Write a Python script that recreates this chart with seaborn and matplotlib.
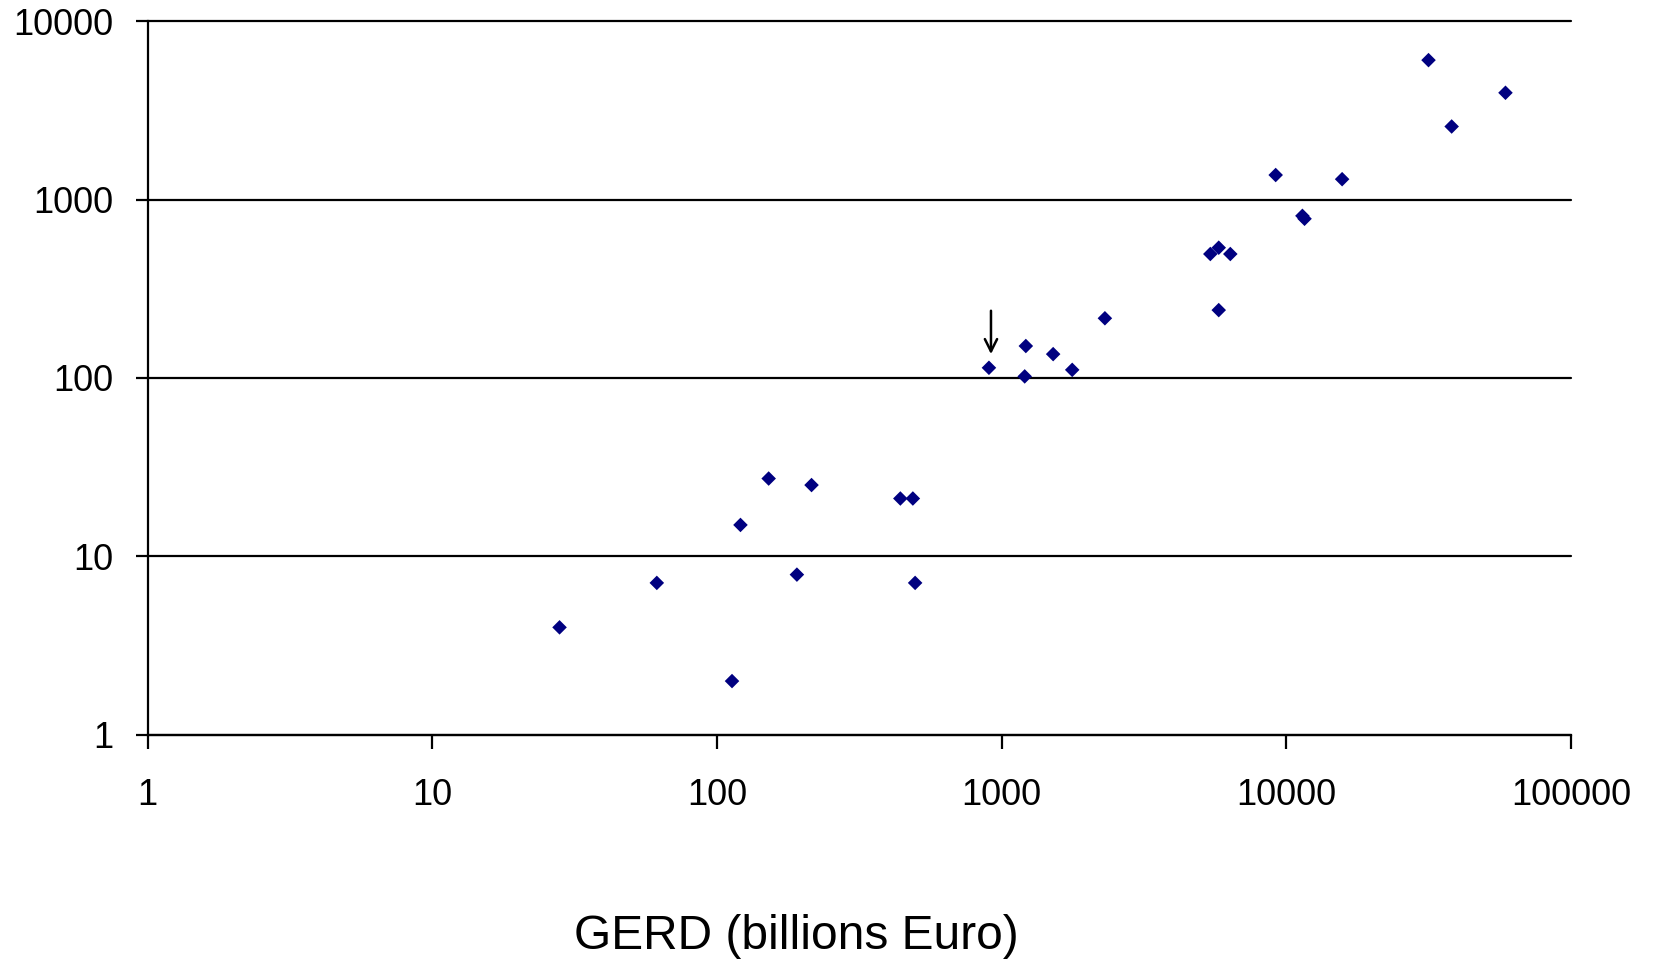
import matplotlib
matplotlib.use("Agg")
import matplotlib.pyplot as plt
import seaborn as sns
import pandas as pd

# Gross expenditure on R&D against the second indicator, both on log scales
gerd = [28, 61.5, 113, 121, 152, 191, 215, 441, 488, 497,
        903, 1206, 1217, 1518, 1771, 2307,
        5413, 5794, 6363, 5794, 9184, 11400, 11600, 15720,
        31620, 38130, 58930]
value = [4.0, 7.1, 2.0, 15.0, 27.3, 7.9, 25.1, 21.1, 21.1, 7.1,
         114, 102, 151, 136, 111, 216,
         495, 537, 495, 240, 1372, 810, 780, 1300,
         6043, 2566, 3965]

x_ticks = [1, 10, 100, 1000, 10000, 100000]
x_tick_labels = ["1", "10", "100", "1000", "10000", "100000"]
y_ticks = [1, 10, 100, 1000, 10000]
y_tick_labels = ["1", "10", "100", "1000", "10000"]
x_title = "GERD (billions Euro)"

df = pd.DataFrame({"gerd": gerd, "value": value})

sns.set_theme(style="white")
plt.rcParams["font.family"] = ["Liberation Sans", "DejaVu Sans"]

fig = plt.figure(figsize=(16.53, 9.59), dpi=100)
ax = fig.add_axes([0.0893, 0.2338, 0.8610, 0.7442])

ax.set_xscale("log")
ax.set_yscale("log")
ax.set_xlim(1, 100000)
ax.set_ylim(1, 10000)

# horizontal gridlines at each decade
for yv in y_ticks:
    ax.axhline(yv, color="black", lw=1.6, zorder=1, clip_on=False)

sns.scatterplot(data=df, x="gerd", y="value", marker="D", s=55,
                color="#000080", edgecolor="none", linewidth=0,
                ax=ax, zorder=3, clip_on=False)

ax.annotate("", xy=(918, 136), xytext=(918, 238),
            arrowprops=dict(arrowstyle="->", color="black", lw=1.8,
                            mutation_scale=22, shrinkA=0, shrinkB=0))

ax.set_xticks(x_ticks)
ax.set_xticklabels(x_tick_labels)
ax.set_yticks(y_ticks)
ax.set_yticklabels(y_tick_labels)
ax.minorticks_off()

for side in ["top", "right"]:
    ax.spines[side].set_visible(False)
for side in ["left", "bottom"]:
    ax.spines[side].set_color("black")
    ax.spines[side].set_linewidth(1.6)

ax.tick_params(axis="y", direction="out", length=9, width=1.6, pad=16,
               labelsize=26, colors="black", left=True)
ax.tick_params(axis="x", direction="out", length=10, width=1.6, pad=21,
               labelsize=26, colors="black", bottom=True)

ax.set_xlabel(x_title, fontsize=34.5, color="black")
ax.set_ylabel("")
ax.xaxis.label.set_va("center")
ax.xaxis.set_label_coords(0.4556, -0.283)

ax.grid(False)
fig.savefig("out.png", dpi=100, facecolor="white")
